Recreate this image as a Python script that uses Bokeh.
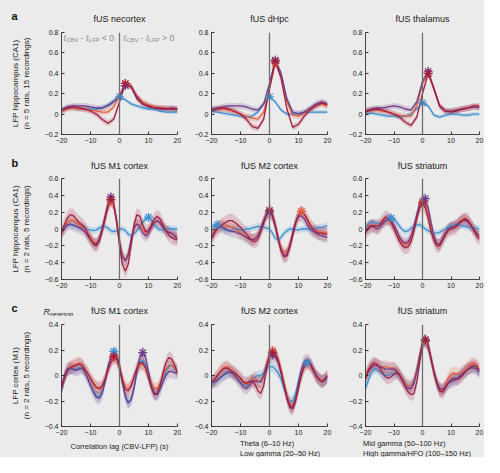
from bokeh.plotting import figure
from bokeh.models import Range1d, FixedTicker, Span, Label, Legend, LegendItem
from bokeh.layouts import row, column
from bokeh.embed import file_html
from bokeh.resources import INLINE

FONT = "Liberation Sans"
BG = "#ebebeb"
INK = "#222222"
GRAY_TXT = "#8c8c8c"

# ---------------- data ----------------
lag_a = list(range(-20, 21, 2))
lag_bc = list(range(-20, 21))
x_ticks = [-20, -10, 0, 10, 20]
y_ticks_a = [-0.2, 0, 0.2, 0.4, 0.6, 0.8]
y_ticks_b = [-0.6, -0.4, -0.2, 0, 0.2, 0.4, 0.6]
y_ticks_c = [-0.4, -0.2, 0, 0.2, 0.4]

band_labels = ["Theta (6\u201310 Hz)", "Low gamma (20\u201350 Hz)",
               "Mid gamma (50\u2013100 Hz)", "High gamma/HFO (100\u2013150 Hz)"]
band_colors = ["#a11f3d", "#3a8fd0", "#e65c3a", "#6d3a8c"]

sem_a = [0.03, 0.02, 0.03, 0.03]
sem_b = [0.08, 0.04, 0.06, 0.07]
sem_c = [0.05, 0.04, 0.05, 0.05]

titles_a = ["fUS necortex", "fUS dHpc", "fUS thalamus"]
titles_b = ["fUS M1 cortex", "fUS M2 cortex", "fUS striatum"]
titles_c = ["fUS M1 cortex", "fUS M2 cortex", "fUS striatum"]

ylabels = ["LFP hippocampus (CA1)\n(n = 5 rats, 15 recordings)",
           "LFP hippocampus (CA1)\n(n = 2 rats, 5 recordings)",
           "LFP cortex (M1)\n(n = 2 rats, 5 recordings)"]
xlabel = "Correlation lag (CBV-LFP) (s)"

# row a (lag step 2 s)
a1_theta = [0.03, 0.06, 0.07, 0.06, 0.05, 0.03, 0.0, -0.05, -0.09, -0.05, 0.12, 0.30, 0.27, 0.15, 0.10, 0.08, 0.06, 0.06, 0.05, 0.05, 0.05]
a1_low = [0.05, 0.06, 0.06, 0.05, 0.05, 0.05, 0.05, 0.06, 0.09, 0.13, 0.17, 0.14, 0.10, 0.08, 0.06, 0.05, 0.05, 0.03, 0.02, 0.02, 0.02]
a1_mid = [0.03, 0.05, 0.06, 0.05, 0.05, 0.04, 0.03, 0.02, 0.02, 0.07, 0.18, 0.30, 0.28, 0.18, 0.12, 0.09, 0.07, 0.06, 0.06, 0.05, 0.05]
a1_high = [0.04, 0.07, 0.08, 0.08, 0.08, 0.07, 0.06, 0.06, 0.08, 0.12, 0.18, 0.28, 0.27, 0.17, 0.10, 0.07, 0.06, 0.05, 0.05, 0.06, 0.05]

a2_theta = [0.03, 0.05, 0.06, 0.05, 0.03, 0.0, -0.05, -0.12, -0.14, -0.05, 0.25, 0.52, 0.35, 0.05, -0.13, -0.10, -0.02, 0.04, 0.08, 0.11, 0.09]
a2_low = [0.03, 0.02, 0.01, 0.0, -0.01, -0.02, -0.03, -0.02, 0.02, 0.10, 0.17, 0.12, 0.04, 0.0, 0.0, 0.01, 0.02, 0.02, 0.02, 0.02, 0.02]
a2_mid = [0.04, 0.05, 0.05, 0.04, 0.02, 0.0, -0.02, -0.04, -0.05, 0.02, 0.25, 0.50, 0.38, 0.12, -0.01, -0.02, 0.01, 0.05, 0.08, 0.10, 0.08]
a2_high = [0.05, 0.06, 0.07, 0.08, 0.08, 0.08, 0.07, 0.05, 0.04, 0.10, 0.30, 0.53, 0.40, 0.15, 0.02, 0.0, 0.02, 0.06, 0.10, 0.12, 0.10]

a3_theta = [0.02, 0.04, 0.05, 0.04, 0.02, 0.0, -0.03, -0.08, -0.11, -0.03, 0.20, 0.40, 0.25, 0.08, 0.03, 0.02, 0.03, 0.05, 0.06, 0.08, 0.08]
a3_low = [0.0, 0.01, 0.0, -0.01, -0.02, -0.02, -0.03, -0.02, 0.0, 0.05, 0.11, 0.08, -0.01, -0.03, -0.01, 0.0, 0.0, -0.01, -0.01, 0.0, 0.0]
a3_mid = [0.04, 0.04, 0.04, 0.03, 0.02, 0.0, -0.01, -0.02, -0.02, 0.08, 0.30, 0.40, 0.25, 0.08, 0.03, 0.03, 0.04, 0.05, 0.06, 0.07, 0.07]
a3_high = [0.03, 0.05, 0.06, 0.06, 0.07, 0.08, 0.07, 0.05, 0.04, 0.12, 0.32, 0.42, 0.25, 0.08, 0.03, 0.03, 0.04, 0.05, 0.06, 0.07, 0.06]

# row b (lag step 1 s)
b1_theta = [-0.05, 0.05, 0.13, 0.17, 0.16, 0.12, 0.08, 0.05, 0.02, -0.05, -0.12, -0.18, -0.20, -0.15, -0.03, 0.12, 0.27, 0.35, 0.30, 0.10,
            -0.20, -0.42, -0.50, -0.42, -0.20, 0.05, 0.17, 0.15, 0.05, -0.03, -0.02, 0.05, 0.12, 0.15, 0.12, 0.05, -0.02, -0.07, -0.10, -0.12, -0.12]
b1_low = [0.0, 0.02, 0.04, 0.05, 0.04, 0.03, 0.02, 0.02, 0.01, 0.0, -0.01, -0.02, -0.01, 0.01, 0.03, 0.03, 0.01, -0.02, -0.03, -0.02,
          0.0, 0.0, -0.02, -0.06, -0.08, -0.06, -0.02, 0.03, 0.08, 0.12, 0.14, 0.10, 0.05, 0.01, -0.01, -0.01, 0.0, 0.01, 0.0, 0.0, 0.0]
b1_mid = [-0.05, 0.0, 0.07, 0.10, 0.10, 0.08, 0.05, 0.03, 0.0, -0.05, -0.10, -0.15, -0.17, -0.12, -0.02, 0.10, 0.25, 0.33, 0.28, 0.10,
          -0.12, -0.30, -0.38, -0.32, -0.15, 0.0, 0.06, 0.05, 0.0, -0.05, -0.04, 0.02, 0.07, 0.10, 0.08, 0.03, -0.02, -0.05, -0.05, -0.07, -0.10]
b1_high = [-0.05, 0.0, 0.05, 0.06, 0.05, 0.03, 0.02, 0.0, -0.03, -0.08, -0.13, -0.17, -0.18, -0.12, 0.0, 0.15, 0.30, 0.38, 0.30, 0.08,
           -0.15, -0.33, -0.38, -0.30, -0.12, 0.02, 0.06, 0.02, -0.05, -0.08, -0.05, 0.02, 0.08, 0.10, 0.07, 0.02, -0.02, -0.04, -0.05, -0.08, -0.12]

b2_theta = [-0.12, -0.05, 0.0, 0.03, 0.06, 0.08, 0.10, 0.10, 0.08, 0.05, 0.02, -0.02, -0.06, -0.10, -0.14, -0.15, -0.12, -0.04, 0.07, 0.17,
            0.22, 0.18, 0.05, -0.12, -0.26, -0.33, -0.32, -0.22, -0.08, 0.07, 0.17, 0.20, 0.18, 0.12, 0.05, 0.0, -0.03, -0.05, -0.05, -0.06, -0.06]
b2_low = [0.02, 0.04, 0.05, 0.03, 0.0, -0.02, -0.02, -0.01, 0.0, 0.0, -0.01, -0.01, 0.0, 0.0, 0.01, 0.02, 0.03, 0.03, 0.02, 0.01,
          0.0, -0.05, -0.11, -0.13, -0.10, -0.05, -0.02, 0.0, 0.0, -0.01, -0.01, 0.0, 0.0, 0.0, 0.0, 0.0, 0.01, 0.02, 0.02, 0.03, 0.04]
b2_mid = [-0.08, -0.02, 0.02, 0.05, 0.05, 0.04, 0.03, 0.02, 0.0, -0.02, -0.05, -0.07, -0.09, -0.11, -0.12, -0.11, -0.08, 0.0, 0.10, 0.17,
          0.19, 0.15, 0.04, -0.10, -0.22, -0.28, -0.27, -0.18, -0.05, 0.08, 0.17, 0.21, 0.17, 0.10, 0.04, 0.0, -0.02, -0.03, -0.04, -0.04, -0.05]
b2_high = [-0.10, -0.04, 0.02, 0.03, 0.02, 0.0, -0.02, -0.03, -0.03, -0.05, -0.06, -0.08, -0.10, -0.12, -0.13, -0.12, -0.08, 0.0, 0.10, 0.18,
           0.20, 0.15, 0.03, -0.12, -0.25, -0.32, -0.30, -0.20, -0.05, 0.08, 0.15, 0.16, 0.12, 0.05, 0.0, -0.03, -0.05, -0.07, -0.08, -0.09, -0.10]

b3_theta = [-0.05, 0.0, 0.03, 0.04, 0.03, 0.05, 0.10, 0.14, 0.13, 0.08, 0.0, -0.08, -0.15, -0.20, -0.22, -0.21, -0.15, -0.03, 0.12, 0.25,
            0.30, 0.25, 0.12, -0.03, -0.14, -0.20, -0.20, -0.14, -0.07, -0.02, 0.0, 0.01, 0.03, 0.07, 0.10, 0.12, 0.10, 0.05, -0.02, -0.08, -0.12]
b3_low = [0.03, 0.06, 0.08, 0.08, 0.07, 0.06, 0.07, 0.10, 0.12, 0.13, 0.12, 0.08, 0.03, -0.01, -0.03, -0.02, 0.01, 0.04, 0.05, 0.05,
          0.03, 0.0, -0.02, -0.04, -0.05, -0.05, -0.04, -0.02, 0.0, 0.02, 0.04, 0.05, 0.06, 0.05, 0.04, 0.03, 0.02, 0.02, 0.01, 0.01, 0.0]
b3_mid = [0.0, 0.04, 0.05, 0.04, 0.03, 0.05, 0.08, 0.10, 0.10, 0.07, 0.02, -0.05, -0.12, -0.17, -0.19, -0.17, -0.10, 0.02, 0.15, 0.27,
          0.32, 0.30, 0.18, 0.02, -0.12, -0.18, -0.18, -0.12, -0.05, 0.0, 0.02, 0.03, 0.05, 0.09, 0.12, 0.13, 0.10, 0.05, 0.0, -0.05, -0.10]
b3_high = [-0.02, 0.02, 0.04, 0.02, 0.0, 0.02, 0.06, 0.10, 0.12, 0.10, 0.05, -0.02, -0.10, -0.15, -0.17, -0.15, -0.08, 0.03, 0.17, 0.30,
           0.35, 0.36, 0.25, 0.08, -0.08, -0.17, -0.18, -0.12, -0.05, 0.0, 0.02, 0.03, 0.05, 0.08, 0.10, 0.10, 0.08, 0.04, 0.0, -0.05, -0.08]

# row c (lag step 1 s)
c1_theta = [-0.10, -0.02, 0.04, 0.06, 0.07, 0.08, 0.09, 0.08, 0.05, 0.02, -0.02, -0.06, -0.09, -0.10, -0.08, -0.03, 0.04, 0.10, 0.15, 0.13,
            0.06, -0.04, -0.11, -0.12, -0.08, -0.01, 0.06, 0.10, 0.10, 0.06, -0.02, -0.10, -0.15, -0.14, -0.08, 0.02, 0.10, 0.14, 0.13, 0.08, 0.02]
c1_low = [-0.12, -0.03, 0.03, 0.05, 0.05, 0.05, 0.06, 0.06, 0.03, -0.02, -0.07, -0.12, -0.16, -0.17, -0.13, -0.05, 0.06, 0.15, 0.19, 0.17,
          0.07, -0.06, -0.17, -0.22, -0.19, -0.10, 0.02, 0.10, 0.12, 0.08, 0.0, -0.08, -0.14, -0.14, -0.10, -0.03, 0.03, 0.07, 0.08, 0.06, 0.02]
c1_mid = [-0.10, -0.02, 0.04, 0.07, 0.08, 0.09, 0.10, 0.09, 0.05, 0.01, -0.03, -0.07, -0.10, -0.11, -0.09, -0.03, 0.05, 0.11, 0.14, 0.13,
          0.07, -0.02, -0.09, -0.11, -0.08, -0.02, 0.04, 0.08, 0.09, 0.06, 0.0, -0.06, -0.10, -0.10, -0.06, 0.0, 0.05, 0.08, 0.08, 0.06, 0.04]
c1_high = [-0.10, 0.0, 0.05, 0.06, 0.05, 0.04, 0.05, 0.06, 0.03, -0.02, -0.08, -0.13, -0.17, -0.18, -0.14, -0.05, 0.06, 0.14, 0.17, 0.16,
           0.08, -0.05, -0.16, -0.21, -0.19, -0.10, 0.04, 0.14, 0.18, 0.14, 0.03, -0.08, -0.14, -0.15, -0.11, -0.05, 0.0, 0.03, 0.03, 0.02, 0.02]

c2_theta = [-0.05, -0.03, 0.0, 0.03, 0.05, 0.06, 0.05, 0.03, 0.02, 0.0, -0.02, -0.05, -0.06, -0.05, -0.04, -0.07, -0.12, -0.14, -0.08, 0.05,
            0.15, 0.18, 0.17, 0.12, 0.03, -0.08, -0.18, -0.25, -0.26, -0.20, -0.10, 0.0, 0.07, 0.10, 0.09, 0.05, 0.0, -0.03, -0.05, -0.03, 0.0]
c2_low = [-0.07, -0.05, -0.03, -0.01, 0.0, 0.01, 0.02, 0.02, 0.0, -0.02, -0.05, -0.07, -0.08, -0.06, -0.03, -0.01, 0.0, 0.0, 0.02, 0.05,
          0.07, 0.07, 0.05, 0.02, -0.03, -0.10, -0.16, -0.20, -0.20, -0.14, -0.04, 0.04, 0.09, 0.10, 0.09, 0.05, 0.01, -0.02, -0.04, -0.04, -0.02]
c2_mid = [-0.05, -0.04, -0.01, 0.03, 0.06, 0.07, 0.06, 0.04, 0.02, 0.0, -0.03, -0.06, -0.07, -0.06, -0.03, -0.02, -0.04, -0.05, 0.0, 0.10,
          0.17, 0.19, 0.18, 0.13, 0.05, -0.05, -0.15, -0.22, -0.24, -0.19, -0.09, 0.01, 0.08, 0.10, 0.08, 0.04, 0.0, -0.02, -0.04, -0.03, 0.0]
c2_high = [-0.05, -0.05, -0.04, -0.02, 0.0, 0.02, 0.03, 0.02, 0.0, -0.03, -0.06, -0.09, -0.10, -0.08, -0.05, -0.04, -0.05, -0.05, 0.0, 0.08,
           0.14, 0.16, 0.15, 0.10, 0.02, -0.08, -0.17, -0.24, -0.25, -0.18, -0.06, 0.05, 0.11, 0.12, 0.10, 0.05, 0.0, -0.03, -0.05, -0.04, -0.01]

c3_theta = [-0.03, 0.04, 0.08, 0.10, 0.09, 0.06, 0.02, -0.01, -0.02, -0.01, 0.01, 0.02, 0.0, -0.04, -0.09, -0.13, -0.15, -0.14, -0.05, 0.10,
            0.24, 0.28, 0.24, 0.14, 0.03, -0.06, -0.12, -0.13, -0.10, -0.06, -0.03, -0.02, -0.03, -0.02, 0.0, 0.03, 0.05, 0.07, 0.08, 0.07, 0.04]
c3_low = [-0.10, -0.04, 0.02, 0.05, 0.05, 0.03, 0.01, 0.0, 0.0, 0.01, 0.02, 0.02, 0.0, -0.03, -0.06, -0.08, -0.08, -0.05, 0.04, 0.15,
          0.25, 0.27, 0.22, 0.12, 0.02, -0.06, -0.10, -0.11, -0.09, -0.06, -0.04, -0.03, -0.02, 0.0, 0.02, 0.04, 0.05, 0.06, 0.07, 0.05, 0.02]
c3_mid = [0.0, 0.05, 0.08, 0.09, 0.08, 0.07, 0.07, 0.07, 0.06, 0.06, 0.06, 0.04, 0.01, -0.03, -0.06, -0.08, -0.08, -0.04, 0.05, 0.16,
          0.26, 0.27, 0.22, 0.12, 0.02, -0.06, -0.11, -0.12, -0.08, -0.02, 0.01, 0.02, 0.01, 0.01, 0.03, 0.05, 0.07, 0.09, 0.10, 0.08, 0.05]
c3_high = [-0.02, 0.03, 0.06, 0.08, 0.08, 0.07, 0.06, 0.05, 0.05, 0.05, 0.05, 0.03, 0.0, -0.04, -0.08, -0.10, -0.10, -0.06, 0.03, 0.15,
           0.26, 0.28, 0.23, 0.13, 0.03, -0.05, -0.10, -0.11, -0.09, -0.06, -0.05, -0.04, -0.03, -0.01, 0.01, 0.03, 0.05, 0.06, 0.06, 0.05, 0.03]

# ---------------- layout geometry (px) ----------------
# (canvas width, left border, right border) per column
cols = [(181, 61, 4), (154, 30, 8), (149, 30, 5)]
frame_centers = [119, 269, 422]
TOTAL_W = 484


def minus_label(v):
    return ("%g" % v).replace("-", "\u2212")


def bare_fig(w, h, x_range, y_range):
    f = figure(width=w, height=h, x_range=x_range, y_range=y_range,
               x_axis_type=None, y_axis_type=None, output_backend="svg",
               toolbar_location=None, min_border=0,
               background_fill_color=BG, border_fill_color=BG, outline_line_color=None)
    return f


def make_header(h, letter, letter_y, titles, title_y):
    f = bare_fig(TOTAL_W, h, Range1d(0, TOTAL_W), Range1d(h, 0))
    f.add_layout(Label(x=11, y=letter_y, text=letter, text_font=FONT, text_font_size="11px",
                       text_font_style="bold", text_color="#111111", text_baseline="middle"))
    for t, cx in zip(titles, frame_centers):
        f.add_layout(Label(x=cx, y=title_y, text=t, text_font=FONT, text_font_size="9px",
                           text_color=INK, text_align="center", text_baseline="middle"))
    return f


def make_panel(lags, series, sem, yr, yticks, width, height, left, right, top, bottom):
    p = figure(width=width, height=height, x_range=Range1d(-20, 20), y_range=Range1d(*yr),
               output_backend="svg", toolbar_location=None,
               min_border_left=left, min_border_right=right,
               min_border_top=top, min_border_bottom=bottom,
               background_fill_color=BG, border_fill_color=BG, outline_line_color=None)
    p.xgrid.visible = False
    p.ygrid.visible = False

    order = [1, 2, 3, 0]  # low, mid, high, theta (theta on top)
    for i in order:
        vals = series[i]
        lo = [v - sem[i] for v in vals]
        hi = [v + sem[i] for v in vals]
        p.varea(x=lags, y1=lo, y2=hi, fill_color=band_colors[i], fill_alpha=0.2)
    p.add_layout(Span(location=0, dimension="height", line_color="#707070", line_width=1.3))
    for i in order:
        p.line(x=lags, y=series[i], line_color=band_colors[i], line_width=1.3)
    for i in order:
        vals = series[i]
        k = max(range(len(vals)), key=lambda j: vals[j])
        p.scatter(x=[lags[k]], y=[vals[k]], marker="asterisk", size=9,
                  line_color=band_colors[i], line_width=1.2)

    p.xaxis.ticker = FixedTicker(ticks=x_ticks)
    p.yaxis.ticker = FixedTicker(ticks=yticks)
    p.xaxis.major_label_overrides = {t: minus_label(t) for t in x_ticks}
    p.yaxis.major_label_overrides = {t: minus_label(t) for t in yticks}
    for ax in p.axis:
        ax.axis_line_color = "#333333"
        ax.axis_line_width = 0.9
        ax.major_tick_line_color = "#333333"
        ax.major_tick_in = 3
        ax.major_tick_out = 0
        ax.minor_tick_line_color = None
        ax.major_label_text_font = FONT
        ax.major_label_text_font_size = "7px"
        ax.major_label_text_color = INK
        ax.major_label_standoff = 3
        ax.axis_label_text_font = FONT
        ax.axis_label_text_font_size = "8px"
        ax.axis_label_text_font_style = "normal"
        ax.axis_label_text_color = INK
    return p


series_a = [[a1_theta, a1_low, a1_mid, a1_high], [a2_theta, a2_low, a2_mid, a2_high], [a3_theta, a3_low, a3_mid, a3_high]]
series_b = [[b1_theta, b1_low, b1_mid, b1_high], [b2_theta, b2_low, b2_mid, b2_high], [b3_theta, b3_low, b3_mid, b3_high]]
series_c = [[c1_theta, c1_low, c1_mid, c1_high], [c2_theta, c2_low, c2_mid, c2_high], [c3_theta, c3_low, c3_mid, c3_high]]

head_a = make_header(24, "a", 15, titles_a, 18)
head_b = make_header(20, "b", 12, titles_b, 15)
head_c = make_header(20, "c", 11, titles_c, 14)
# R_pearson in row c header
head_c.add_layout(Label(x=43, y=15, text="R", text_font=FONT, text_font_size="9px",
                        text_font_style="italic", text_color=INK, text_baseline="middle"))
head_c.add_layout(Label(x=49.5, y=17.5, text="pearson", text_font=FONT, text_font_size="6.5px",
                        text_color=INK, text_baseline="middle"))

row_a = []
for j in range(3):
    w, l, r = cols[j]
    row_a.append(make_panel(lag_a, series_a[j], sem_a, (-0.2, 0.8), y_ticks_a, w, 126, l, r, 8, 16))
row_b = []
for j in range(3):
    w, l, r = cols[j]
    row_b.append(make_panel(lag_bc, series_b[j], sem_b, (-0.6, 0.6), y_ticks_b, w, 126, l, r, 8, 17))
row_c = []
for j in range(3):
    w, l, r = cols[j]
    h, bb = (141, 31) if j == 0 else (123, 13)
    row_c.append(make_panel(lag_bc, series_c[j], sem_c, (-0.4, 0.4), y_ticks_c, w, h, l, r, 8, bb))

# y labels (column 1) and x label (c1)
for p, lab in zip([row_a[0], row_b[0], row_c[0]], ylabels):
    p.yaxis[0].axis_label = lab
    p.yaxis[0].axis_label_standoff = 11
row_c[0].xaxis[0].axis_label = xlabel
row_c[0].xaxis[0].axis_label_standoff = 4
row_c[0].xaxis[0].axis_label_text_font_size = "7.5px"

# header annotation inside a1
pieces = [("t", 0.0, "8.5px", "italic", 0), ("CBV", 2.7, "6px", "normal", -2.5),
          ("-", 17.0, "8.5px", "normal", 0), ("t", 22.6, "8.5px", "italic", 0),
          ("LFP", 25.3, "6px", "normal", -2.5)]
for x0, tail in [(-19.3, "< 0"), (1.4, "> 0")]:
    for txt, dx, fs, st, dy in pieces + [(tail, 38.5, "8.5px", "normal", 0)]:
        row_a[0].add_layout(Label(x=x0, y=0.75, x_offset=dx, y_offset=dy, text=txt,
                                  text_font=FONT, text_font_size=fs, text_font_style=st,
                                  text_color=GRAY_TXT, text_baseline="middle"))

# legend figure under c2/c3
leg_w = cols[1][0] + cols[2][0]
leg = bare_fig(leg_w, 18, Range1d(0, 1), Range1d(0, 1))
items = []
for lab, col in zip(band_labels, band_colors):
    r = leg.line(x=[], y=[], line_color=col, line_width=1.3)
    items.append(LegendItem(label=lab, renderers=[r]))
legend = Legend(items=items, location=(36, -1), orientation="vertical", nrows=2,
                label_text_font=FONT, label_text_font_size="7.5px", label_text_color=INK,
                glyph_width=18, glyph_height=9, label_height=9, label_width=99,
                label_standoff=5, spacing=1, padding=0, margin=0,
                border_line_color=None, background_fill_alpha=0)
leg.add_layout(legend)

S = {"background-color": BG}
layout = column(
    head_a,
    row(*row_a, styles=S),
    head_b,
    row(*row_b, styles=S),
    head_c,
    row(row_c[0], column(row(row_c[1], row_c[2], styles=S), leg, styles=S), styles=S),
    styles=S,
)

open("out.html", "w").write(file_html(layout, INLINE))
